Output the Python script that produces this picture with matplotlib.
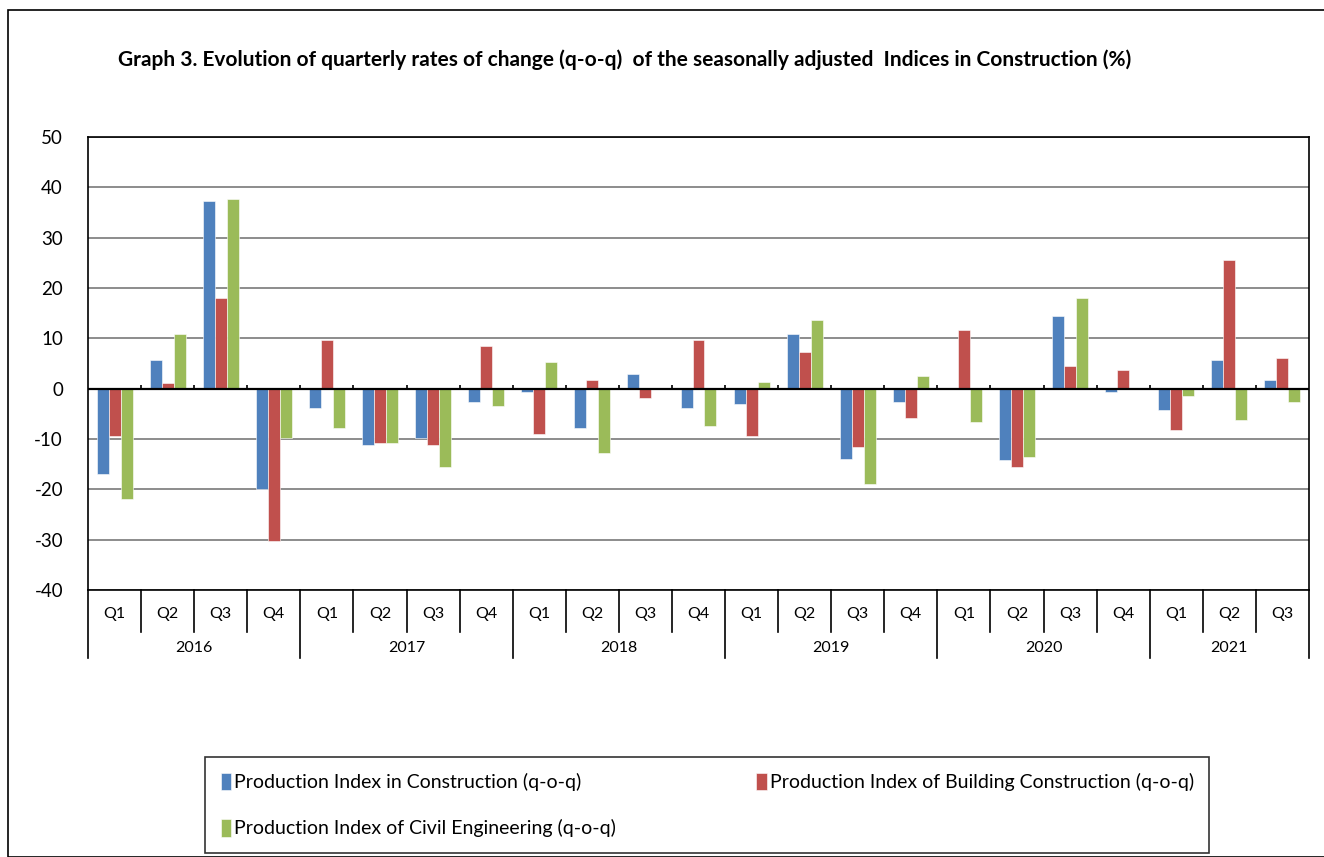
import matplotlib.pyplot as plt
import numpy as np
from matplotlib.patches import Rectangle

plt.rcParams['font.family'] = ['Lato', 'DejaVu Sans']
plt.rcParams['axes.unicode_minus'] = False

years = ['2016', '2017', '2018', '2019', '2020', '2021']
quarters = ['Q1', 'Q2', 'Q3', 'Q4'] * 5 + ['Q1', 'Q2', 'Q3']

construction = [-17.0, 5.7, 37.2, -19.9,
                -3.9, -11.1, -9.9, -2.7,
                -0.7, -7.9, 2.9, -3.9,
                -3.1, 10.9, -13.9, -2.7,
                0.0, -14.2, 14.4, -0.7,
                -4.3, 5.7, 1.7]
building = [-9.5, 1.2, 18.0, -30.2,
            9.7, -10.7, -11.1, 8.5,
            -9.1, 1.7, -1.9, 9.7,
            -9.5, 7.3, -11.5, -5.9,
            11.6, -15.5, 4.5, 3.7,
            -8.3, 25.5, 6.0]
civil = [-21.9, 10.9, 37.6, -9.9,
         -7.9, -10.7, -15.5, -3.5,
         5.3, -12.7, 0.0, -7.5,
         1.3, 13.6, -19.0, 2.5,
         -6.7, -13.5, 18.0, 0.0,
         -1.5, -6.3, -2.7]

labels = ['Production Index in Construction (q-o-q)',
          'Production Index of Building Construction (q-o-q)',
          'Production Index of Civil Engineering (q-o-q)']
colors = ['#4F81BD', '#C0504D', '#9BBB59']

W, H = 1324, 857
fig = plt.figure(figsize=(W / 100, H / 100), dpi=100)
ax = fig.add_axes([88 / W, 1 - 590 / H, (1309 - 88) / W, (590 - 137) / H])

x = np.arange(len(quarters))
w = 0.226
bars = []
for k, (vals, lab, col) in enumerate(zip([construction, building, civil], labels, colors)):
    b = ax.bar(x + (k - 1) * w, vals, width=w, color=col, label=lab,
               edgecolor='white', linewidth=0.4, zorder=3)
    bars.append(b)

ax.set_xlim(-0.5, len(quarters) - 0.5)
ax.set_ylim(-40, 50)
ax.set_yticks(range(-40, 51, 10))
ax.tick_params(axis='y', length=0, labelsize=13.5, pad=18)
ax.set_xticks([])
ax.grid(axis='y', color='#8c8c8c', linewidth=1.4, zorder=0)
for s in ax.spines.values():
    s.set_color('black')
    s.set_linewidth(1.2)

# zero axis line with small tick marks
ax.axhline(0, color='black', linewidth=1.6, zorder=4)
ax.vlines(x[1:] - 0.5, 0, 0.8, color='black', linewidth=1.2, zorder=4)

# two-level category axis
tr = ax.get_xaxis_transform()
for i, q in enumerate(quarters):
    ax.text(i, -0.053, q, transform=tr, ha='center', va='center', fontsize=11.5)
for i in range(len(quarters) + 1):
    edge = i - 0.5
    bottom = -0.15 if i % 4 == 0 or i == len(quarters) else -0.093
    ax.plot([edge, edge], [0, bottom], transform=tr, color='black',
            linewidth=1.2, clip_on=False)
for j, yr in enumerate(years):
    start = j * 4
    end = min(start + 4, len(quarters))
    ax.text((start + end - 1) / 2, -0.128, yr, transform=tr, ha='center',
            va='center', fontsize=11.5)

fig.text(118 / W, 1 - 60 / H,
         'Graph 3. Evolution of quarterly rates of change (q-o-q)  of the seasonally adjusted  Indices in Construction (%)',
         fontsize=15, fontweight='bold', ha='left', va='center')

# row-major legend order: blue, red on first row, green on second
order = [0, 2, 1]
leg = fig.legend([bars[i] for i in order], [labels[i] for i in order],
                 loc='upper left', bbox_to_anchor=(205 / W, 1 - 757 / H),
                 ncol=2, fontsize=14, frameon=True, fancybox=False,
                 edgecolor='black', handlelength=0.55, handleheight=1.0,
                 handletextpad=0.15, columnspacing=7.2, labelspacing=1.45,
                 borderpad=0.8, borderaxespad=0)
leg.get_frame().set_linewidth(1.2)

fig.patches.append(Rectangle((8 / W, 0), 1, 1 - 10 / H, transform=fig.transFigure,
                             fill=False, edgecolor='black', linewidth=1.2))

fig.savefig('out.png', dpi=100)
